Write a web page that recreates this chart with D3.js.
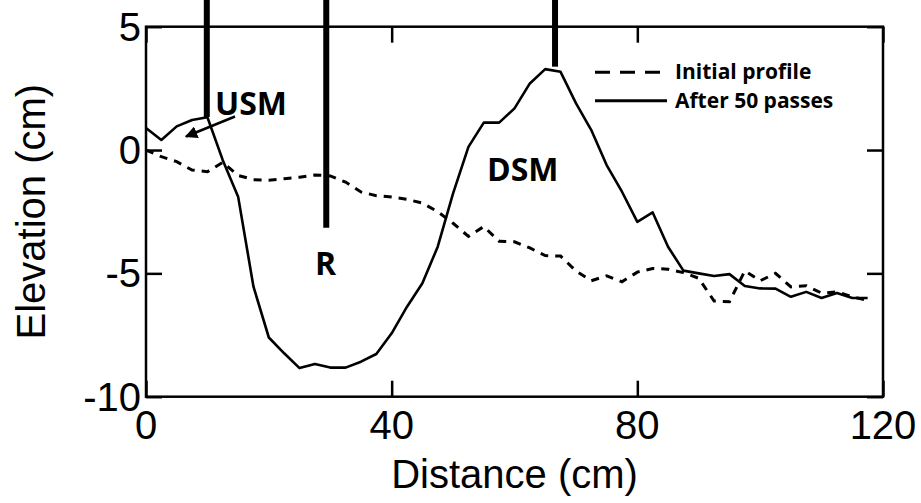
<!DOCTYPE html>
<html>
<head>
<meta charset="utf-8">
<script src="https://cdn.jsdelivr.net/npm/d3@7"></script>
<style>
  html, body { margin: 0; padding: 0; background: #fff; }
  svg { display: block; }
</style>
</head>
<body>
<svg id="chart" width="921" height="503"></svg>
<script>
// Bed profile along the flume, before and after 50 passes
const distance = [0, 2.5, 5, 7.5, 10, 12.5, 15, 17.5, 20, 22.5, 25, 27.5, 30, 32.5, 35, 37.5,
  40, 42.5, 45, 47.5, 50, 52.5, 55, 57.5, 60, 62.5, 65, 67.5, 70, 72.5, 75, 77.5,
  80, 82.5, 85, 87.5, 90, 92.5, 95, 97.5, 100, 102.5, 105, 107.5, 110, 112.5, 115, 117.5];

const initialProfile = [0, -0.27, -0.47, -0.81, -0.88, -0.5, -1.03, -1.2, -1.22, -1.16, -1.1, -1.01, -1.05, -1.3, -1.7, -1.85,
  -1.9, -2.0, -2.15, -2.5, -2.97, -3.5, -3.1, -3.7, -3.72, -3.97, -4.28, -4.3, -4.9, -5.3, -5.1, -5.34,
  -4.95, -4.8, -4.83, -4.97, -5.2, -6.12, -6.15, -4.9, -5.3, -5.0, -5.55, -5.5, -5.8, -5.75, -5.95, -6.1];

const after50Passes = [0.89, 0.41, 0.96, 1.22, 1.33, -0.41, -1.89, -5.54, -7.6, -8.24, -8.84, -8.67, -8.82, -8.82, -8.58, -8.27,
  -7.43, -6.35, -5.4, -3.92, -1.76, 0.13, 1.11, 1.11, 1.69, 2.7, 3.28, 3.17, 1.9, 0.81, -0.61, -1.69,
  -2.91, -2.53, -3.92, -4.89, -5.0, -5.11, -5.03, -5.51, -5.61, -5.62, -5.95, -5.75, -6.0, -5.8, -6.0, -6.0];

// Upstream mound, ripple trough and downstream mound markers
const markerLabels = ["USM", "R", "DSM"];
const markerX = [9.9, 29.35, 66.6];
const markerEnd = [1.34, -3.15, 3.38];

const xTicks = [0, 40, 80, 120];
const yTicks = [5, 0, -5, -10];
const seriesNames = ["Initial profile", "After 50 passes"];

const svg = d3.select("#chart");
const plotLeft = 146, plotRight = 883, plotTop = 26.7, plotBottom = 396.7;

const x = d3.scaleLinear().domain([0, 120]).range([plotLeft, plotRight]);
const y = d3.scaleLinear().domain([-10, 5]).range([plotBottom, plotTop]);

const axisFont = "'Liberation Sans', Arial, sans-serif";
const boldFont = "'Open Sans', sans-serif";

// Inward ticks on all four sides
const tickLen = 16;
function styleAxis(g) {
  g.select(".domain").remove();
  g.selectAll(".tick line").attr("stroke", "#000").attr("stroke-width", 2.5);
  g.selectAll(".tick text").remove();
}
svg.append("g").attr("transform", `translate(0,${plotBottom})`)
  .call(d3.axisBottom(x).tickValues(xTicks).tickSize(-tickLen)).call(styleAxis);
svg.append("g").attr("transform", `translate(0,${plotTop})`)
  .call(d3.axisTop(x).tickValues(xTicks).tickSize(-tickLen)).call(styleAxis);
svg.append("g").attr("transform", `translate(${plotLeft},0)`)
  .call(d3.axisLeft(y).tickValues(yTicks).tickSize(-tickLen)).call(styleAxis);
svg.append("g").attr("transform", `translate(${plotRight},0)`)
  .call(d3.axisRight(y).tickValues(yTicks).tickSize(-tickLen)).call(styleAxis);

// Plot frame
svg.append("rect")
  .attr("x", plotLeft).attr("y", plotTop)
  .attr("width", plotRight - plotLeft).attr("height", plotBottom - plotTop)
  .attr("fill", "none").attr("stroke", "#000").attr("stroke-width", 2.5);

// Tick labels
svg.append("g").selectAll("text").data(xTicks).join("text")
  .attr("x", d => x(d)).attr("y", 439)
  .attr("text-anchor", "middle")
  .attr("font-family", axisFont).attr("font-size", 40)
  .text(d => d);
svg.append("g").selectAll("text").data(yTicks).join("text")
  .attr("x", 141).attr("y", d => y(d) + 14)
  .attr("text-anchor", "end")
  .attr("font-family", axisFont).attr("font-size", 40)
  .text(d => d);

// Axis titles
svg.append("text")
  .attr("x", (plotLeft + plotRight) / 2).attr("y", 488)
  .attr("text-anchor", "middle")
  .attr("font-family", axisFont).attr("font-size", 40)
  .text("Distance (cm)");
svg.append("text")
  .attr("transform", `translate(45,${(plotTop + plotBottom) / 2}) rotate(-90)`)
  .attr("text-anchor", "middle")
  .attr("font-family", axisFont).attr("font-size", 40)
  .text("Elevation (cm)");

// Profiles
const line = d3.line().x(d => x(d[0])).y(d => y(d[1]));
svg.append("path")
  .datum(d3.zip(distance, initialProfile))
  .attr("d", line)
  .attr("fill", "none").attr("stroke", "#000")
  .attr("stroke-width", 3).attr("stroke-dasharray", "8,7");
svg.append("path")
  .datum(d3.zip(distance, after50Passes))
  .attr("d", line)
  .attr("fill", "none").attr("stroke", "#000")
  .attr("stroke-width", 2.6).attr("stroke-linejoin", "round");

// Thick vertical markers running down from the top edge
svg.append("g").selectAll("line").data(markerX).join("line")
  .attr("x1", d => x(d)).attr("x2", d => x(d))
  .attr("y1", 0).attr("y2", (d, i) => y(markerEnd[i]))
  .attr("stroke", "#000").attr("stroke-width", 6);

// Marker labels
const labelPos = [[215, 115], [315, 275], [487, 181]];
svg.append("g").selectAll("text").data(markerLabels).join("text")
  .attr("x", (d, i) => labelPos[i][0]).attr("y", (d, i) => labelPos[i][1])
  .attr("font-family", boldFont).attr("font-weight", 700).attr("font-size", 32)
  .text(d => d);

// Arrow pointing from USM to the mound crest
svg.append("defs").append("marker")
  .attr("id", "arrowhead")
  .attr("viewBox", "0 0 10 10").attr("refX", 9).attr("refY", 5)
  .attr("markerWidth", 5).attr("markerHeight", 5)
  .attr("markerUnits", "strokeWidth")
  .attr("orient", "auto")
  .append("path").attr("d", "M0,0 L10,5 L0,10 Z").attr("fill", "#000");
svg.append("line")
  .attr("x1", 235).attr("y1", 116.5).attr("x2", 186).attr("y2", 136.5)
  .attr("stroke", "#000").attr("stroke-width", 2.5)
  .attr("marker-end", "url(#arrowhead)");

// Legend
const legendY = [72.3, 100.7];
const legend = svg.append("g");
legend.selectAll("line").data(seriesNames).join("line")
  .attr("x1", 595).attr("x2", 667)
  .attr("y1", (d, i) => legendY[i]).attr("y2", (d, i) => legendY[i])
  .attr("stroke", "#000").attr("stroke-width", 3)
  .attr("stroke-dasharray", (d, i) => i === 0 ? "15,10" : null);
legend.selectAll("text").data(seriesNames).join("text")
  .attr("x", 675).attr("y", (d, i) => legendY[i] + 7)
  .attr("font-family", boldFont).attr("font-weight", 700).attr("font-size", 21)
  .text(d => d);
</script>
</body>
</html>
